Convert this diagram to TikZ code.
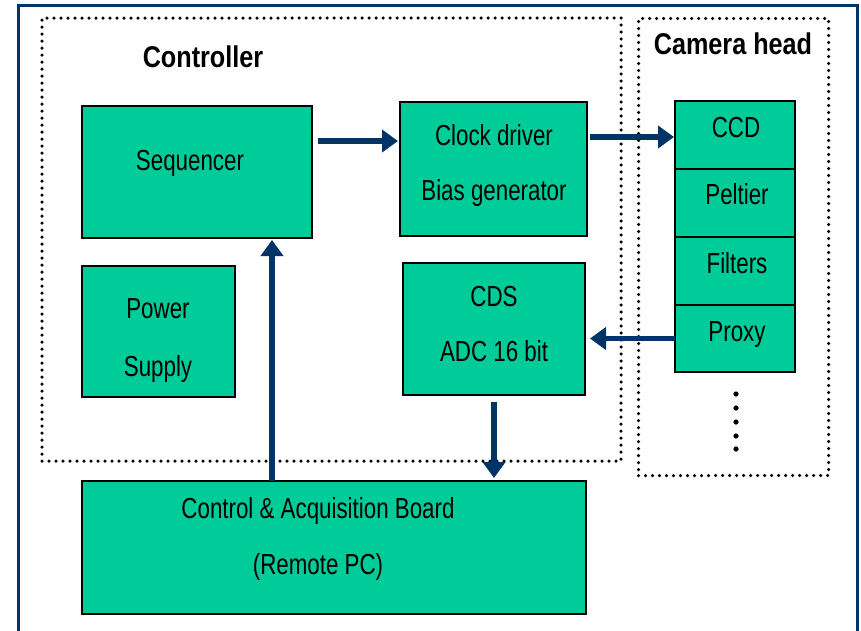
\documentclass[tikz,border=0pt]{standalone}
\usepackage{fontspec}
\setmainfont{Liberation Sans}[FakeStretch=0.77, BoldFeatures={FakeStretch=0.84}]
\usetikzlibrary{arrows.meta}
\definecolor{boxgreen}{RGB}{0,204,153}
\definecolor{navy}{RGB}{0,51,102}
\tikzset{
  greenbox/.style={draw=black, line width=1.3pt, fill=boxgreen, inner sep=0pt, outer sep=0pt},
  dotbox/.style={draw=black, line width=3.5pt, dash pattern=on 0pt off 7pt, line cap=round, inner sep=0pt, outer sep=0pt},
  lbl/.style={anchor=base, inner sep=0pt, font=\fontsize{29}{34}\selectfont},
  title/.style={anchor=base, inner sep=0pt, font=\fontsize{30}{36}\selectfont\bfseries},
  arr/.style={draw=navy, line width=5.5pt, -{Triangle[length=16pt,width=22pt]}}
}
\begin{document}
\begin{tikzpicture}[x=1pt,y=-1pt]
\useasboundingbox (0,0) rectangle (861,630);
\clip (0,0) rectangle (861,630);
% outer frame
\draw[navy, line width=3pt] (18.5,640) -- (18.5,5.5) -- (857.5,5.5) -- (857.5,640);
% dotted group boxes
\node[dotbox, minimum width=579pt, minimum height=443pt] (ctrlbox) at (331.5,239.5) {};
\node[dotbox, minimum width=190pt, minimum height=457pt] (cambox) at (733.5,247) {};
\node[title] (ctrltitle) at (203,67) {Controller};
\node[title] (camtitle) at (733,54.5) {Camera head};
% boxes
\node[greenbox, minimum width=230pt, minimum height=132pt] (seq) at (197,172) {};
\node[greenbox, minimum width=187pt, minimum height=134pt] (clock) at (493.5,169) {};
\node[greenbox, minimum width=153pt, minimum height=131pt] (power) at (158.5,331.5) {};
\node[greenbox, minimum width=182pt, minimum height=132pt] (cds) at (494,329) {};
\node[greenbox, minimum width=120pt, minimum height=68pt] (ccd) at (735,135) {};
\node[greenbox, minimum width=120pt, minimum height=68pt] (peltier) at (735,203) {};
\node[greenbox, minimum width=120pt, minimum height=68pt] (filters) at (735,271) {};
\node[greenbox, minimum width=120pt, minimum height=67pt] (proxy) at (735,338.5) {};
\node[greenbox, minimum width=504pt, minimum height=133pt] (board) at (334,547.5) {};
% labels
\node[lbl] (tseq) at (190,170) {Sequencer};
\node[lbl] (tclock1) at (494,145) {Clock driver};
\node[lbl] (tclock2) at (494,200.5) {Bias generator};
\node[lbl] (tpow1) at (158,318.5) {Power};
\node[lbl] (tpow2) at (158,376) {Supply};
\node[lbl] (tcds1) at (494,306.5) {CDS};
\node[lbl] (tcds2) at (494,361.5) {ADC 16 bit};
\node[lbl] (tccd) at (736,137.5) {CCD};
\node[lbl] (tpel) at (737,204.5) {Peltier};
\node[lbl] (tfil) at (737,273.5) {Filters};
\node[lbl] (tpro) at (737,341.5) {Proxy};
\node[lbl] (tb1) at (318,518.5) {Control \& Acquisition Board};
\node[lbl] (tb2) at (318,574.5) {(Remote PC)};
% continuation dots
\foreach \yy in {394,408,422,436,449} \fill (736,\yy) circle (2.6pt);
% connectors
\draw[arr, shorten <=6pt, shorten >=2pt] (seq.east |- 0,141) -- (clock.west |- 0,141);
\draw[arr, shorten <=3pt, shorten >=1pt] (clock.east |- 0,137) -- (ccd.west |- 0,137);
\draw[arr, shorten >=5pt] (proxy.west) -- (cds.east |- proxy.west);
\draw[arr, shorten <=7pt, shorten >=3pt] (cds.south) -- (cds.south |- board.north);
\draw[arr, shorten >=2pt] (board.north -| 272,0) -- (seq.south -| 272,0);
\end{tikzpicture}
\end{document}
